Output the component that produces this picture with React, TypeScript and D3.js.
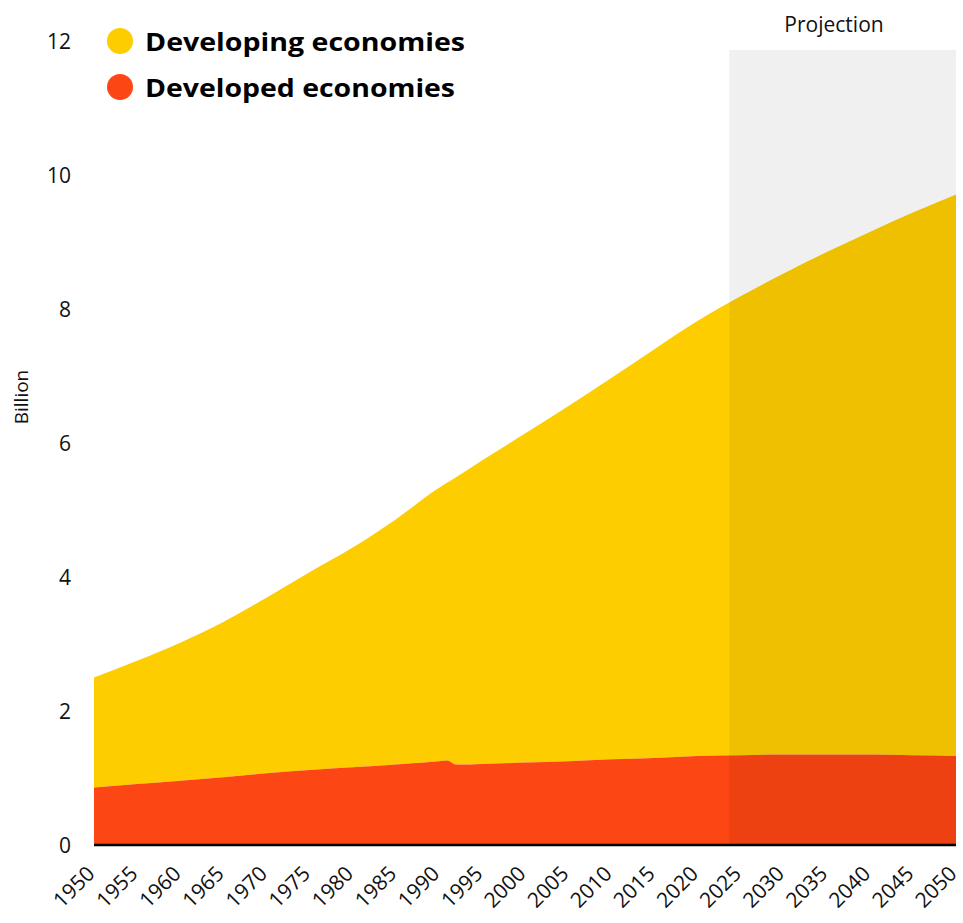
import React from "react";
import * as d3 from "d3";

const years = [1950, 1955, 1960, 1965, 1970, 1975, 1980, 1985, 1990, 1991, 1992, 1995, 2000, 2005, 2010, 2015, 2020, 2025, 2030, 2035, 2040, 2045, 2050];
const developed = [0.86, 0.91, 0.96, 1.01, 1.07, 1.12, 1.16, 1.2, 1.25, 1.26, 1.2, 1.21, 1.23, 1.25, 1.28, 1.3, 1.33, 1.34, 1.35, 1.35, 1.35, 1.34, 1.33];
const developing = [1.64, 1.84, 2.06, 2.32, 2.62, 2.95, 3.28, 3.66, 4.08, 4.15, 4.29, 4.53, 4.91, 5.3, 5.69, 6.1, 6.49, 6.85, 7.18, 7.5, 7.8, 8.1, 8.38];
const yTicks = [0, 2, 4, 6, 8, 10, 12];
const xTicks = [1950, 1955, 1960, 1965, 1970, 1975, 1980, 1985, 1990, 1995, 2000, 2005, 2010, 2015, 2020, 2025, 2030, 2035, 2040, 2045, 2050];
const projectionStart = 2023.7;
const seriesNames = ["Developing economies", "Developed economies"];
const seriesColors = ["#FDCD00", "#FC4614"];

const W = 963;
const H = 923;
const font = "'Open Sans', 'DejaVu Sans', sans-serif";

export default function App() {
  const x = d3.scaleLinear().domain([1950, 2050]).range([94, 956]);
  const y = d3.scaleLinear().domain([0, 12]).range([845, 41]);

  const rows = years.map((yr, i) => ({ yr, dev: developed[i], ing: developing[i] }));

  const areaDeveloped = d3
    .area<any>()
    .x((d) => x(d.yr))
    .y0(() => y(0))
    .y1((d) => y(d.dev))
    .curve(d3.curveMonotoneX);
  const areaDeveloping = d3
    .area<any>()
    .x((d) => x(d.yr))
    .y0((d) => y(d.dev))
    .y1((d) => y(d.dev + d.ing))
    .curve(d3.curveMonotoneX);

  const shadeX = x(projectionStart);
  const legendWidths = [320, 310];

  return (
    <svg width={W} height={H} style={{ position: "absolute", left: 0, top: 0, background: "#fff" }}>
      <path d={areaDeveloping(rows) || ""} fill={seriesColors[0]} />
      <path d={areaDeveloped(rows) || ""} fill={seriesColors[1]} />
      <rect x={shadeX} y={50} width={x(2050) - shadeX} height={y(0) - 50} fill="#000" fillOpacity={0.06} />
      <text x={834} y={32} textAnchor="middle" fontFamily={font} fontSize={21} fill="#111">
        Projection
      </text>
      <line x1={x(1950)} x2={x(2050)} y1={y(0)} y2={y(0)} stroke="#000" strokeWidth={2.6} />
      {yTicks.map((t) => (
        <text key={t} x={71} y={y(t)} textAnchor="end" dominantBaseline="central" fontFamily={font} fontSize={21} fill="#111">
          {t}
        </text>
      ))}
      <text transform={`translate(28,${397}) rotate(-90)`} textAnchor="middle" fontFamily={font} fontSize={19} fill="#111">
        Billion
      </text>
      {xTicks.map((t) => (
        <text
          key={t}
          transform={`translate(${x(t) + 2},${875}) rotate(-45)`}
          textAnchor="end"
          fontFamily={font}
          fontSize={21}
          fill="#111"
        >
          {t}
        </text>
      ))}
      {seriesNames.map((n, i) => (
        <g key={n}>
          <circle cx={120} cy={41 + i * 46} r={13} fill={seriesColors[i]} />
          <text
            x={145}
            y={41 + i * 46}
            dominantBaseline="central"
            fontFamily={font}
            fontWeight={700}
            fontSize={25}
            fill="#000"
            textLength={legendWidths[i]}
            lengthAdjust="spacingAndGlyphs"
          >
            {n}
          </text>
        </g>
      ))}
    </svg>
  );
}
